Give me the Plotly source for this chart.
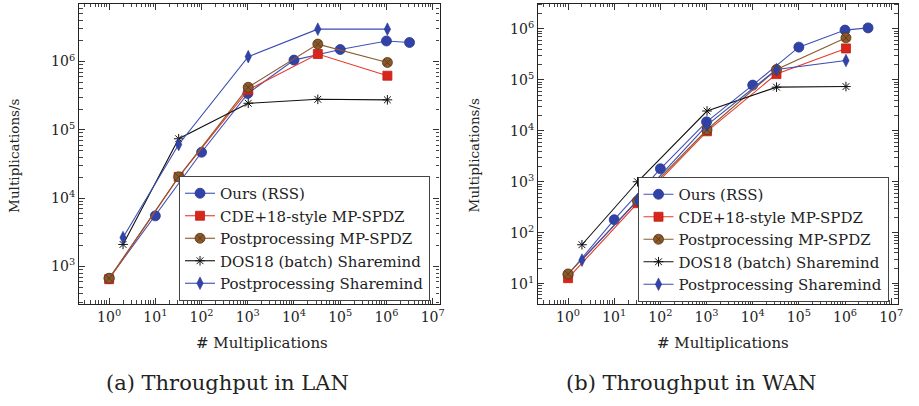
import plotly.graph_objects as go

# ---------------- data ----------------
ours_x = [1, 10, 100, 1000, 1e4, 1e5, 1e6, 3.16e6]
pow2_x = [1, 32, 1024, 32768, 1048576]
dos_x = [2, 32, 1024, 32768, 1048576]

ours_lan = [670, 5500, 47000, 340000, 1050000, 1500000, 2000000, 1900000]
cde_lan = [650, 20500, 385000, 1290000, 620000]
ppmp_lan = [670, 20500, 420000, 1800000, 970000]
dos_lan = [2100, 74000, 245000, 280000, 275000]
ppsh_lan = [2650, 61000, 1180000, 2980000, 2980000]

ours_wan = [15, 180, 1800, 15000, 79000, 440000, 950000, 1050000]
cde_wan = [12.8, 380, 9800, 130000, 415000]
ppmp_wan = [15.5, 420, 10500, 160000, 670000]
dos_wan = [58, 1000, 24500, 72000, 74000]
ppsh_wan = [29, 440, 13000, 160000, 240000]

names = ["Ours (RSS)", "CDE+18-style MP-SPDZ", "Postprocessing MP-SPDZ",
         "DOS18 (batch) Sharemind", "Postprocessing Sharemind"]
captions = ["(a) Throughput in LAN", "(b) Throughput in WAN"]

x_exps = [0, 1, 2, 3, 4, 5, 6, 7]
y_exps_lan = [3, 4, 5, 6]
y_exps_wan = [1, 2, 3, 4, 5, 6]

FONT = "DejaVu Serif"
TXT = "#222222"

styles = [
    dict(line=dict(color="#4152b3", width=1.1),
         marker=dict(symbol="circle", size=10, color="#3243a8", line=dict(color="#2a3890", width=0.8))),
    dict(line=dict(color="#e8392b", width=1.1),
         marker=dict(symbol="square", size=9, color="#d8261c", line=dict(color="#c01f15", width=0.8))),
    dict(line=dict(color="#8b5a2b", width=1.1),
         marker=dict(symbol="circle-x", size=10, color="#8b5a2b", line=dict(color="#5a3515", width=0.8))),
    dict(line=dict(color="#111111", width=1.1),
         marker=dict(symbol="asterisk-open", size=8, color="#111111", line=dict(color="#111111", width=1))),
    dict(line=dict(color="#3a4cb0", width=1.1),
         marker=dict(symbol="diamond-tall", size=9, color="#3243a8", line=dict(color="#2a3890", width=0.6))),
]

fig = go.Figure()

panels = [
    ("x", "y", "legend", [(ours_x, ours_lan), (pow2_x, cde_lan), (pow2_x, ppmp_lan),
                          (dos_x, dos_lan), (dos_x, ppsh_lan)]),
    ("x2", "y2", "legend2", [(ours_x, ours_wan), (pow2_x, cde_wan), (pow2_x, ppmp_wan),
                             (dos_x, dos_wan), (dos_x, ppsh_wan)]),
]

for xa, ya, lg, series in panels:
    for i, (xs, ys) in enumerate(series):
        fig.add_trace(go.Scatter(
            x=xs, y=ys, mode="lines+markers", name=names[i],
            xaxis=xa, yaxis=ya, legend=lg,
            line=styles[i]["line"], marker=styles[i]["marker"],
        ))

W, H = 919, 406
left_dom = [79.5 / W, 442 / W]
right_dom = [541 / W, 903 / W]
ydom = [(H - 304) / H, (H - 3.5) / H]


def minor_vals(lo, hi):
    return [m * 10 ** e for e in range(lo, hi) for m in range(2, 10)]


def logax(dom, anchor, rng, exps, mlo, mhi):
    return dict(
        domain=dom, anchor=anchor, type="log", range=rng,
        tickmode="array", tickvals=[10 ** e for e in exps],
        ticktext=["10<sup>%d</sup>" % e for e in exps],
        showgrid=False, zeroline=False,
        ticks="inside", ticklen=6, tickwidth=1, tickcolor="#333",
        showline=True, linecolor="#222", linewidth=1.2, mirror="allticks",
        minor=dict(ticks="inside", ticklen=3.5, tickwidth=0.8, tickcolor="#444",
                   showgrid=False, tickmode="array", tickvals=minor_vals(mlo, mhi)),
        tickfont=dict(family=FONT, size=14, color=TXT),
    )


legend_common = dict(
    bgcolor="white", bordercolor="#444", borderwidth=1,
    font=dict(family=FONT, size=15, color=TXT),
    xanchor="left", yanchor="top", itemwidth=30, tracegroupgap=0,
)

fig.update_layout(
    width=W, height=H,
    margin=dict(l=0, r=0, t=0, b=0),
    paper_bgcolor="white", plot_bgcolor="white",
    font=dict(family=FONT, size=15, color=TXT),
    xaxis=logax(left_dom, "y", [-0.65, 7.15], x_exps, -1, 8),
    yaxis=logax(ydom, "x", [2.45, 6.85], y_exps_lan, 2, 7),
    xaxis2=logax(right_dom, "y2", [-0.65, 7.15], x_exps, -1, 8),
    yaxis2=logax(ydom, "x2", [0.6, 6.5], y_exps_wan, 0, 7),
    legend=dict(x=180 / W, y=(H - 176) / H, **legend_common),
    legend2=dict(x=641 / W, y=(H - 177) / H, **legend_common),
    showlegend=True,
)

annos = []
for cx_px in [263, 727]:
    annos.append(dict(text="# Multiplications", x=cx_px / W, y=(H - 343) / H, xref="paper", yref="paper",
                      showarrow=False, xanchor="center", yanchor="middle",
                      font=dict(family=FONT, size=15, color=TXT)))
for cx_px, cap in [(229, captions[0]), (695, captions[1])]:
    annos.append(dict(text=cap, x=cx_px / W, y=(H - 383) / H, xref="paper", yref="paper",
                      showarrow=False, xanchor="center", yanchor="middle",
                      font=dict(family=FONT, size=21, color=TXT)))
for xp in [14, 477]:
    annos.append(dict(text="Multiplications/s", x=xp / W, y=(H - 155) / H, xref="paper", yref="paper",
                      showarrow=False, xanchor="center", yanchor="middle", textangle=-90,
                      font=dict(family=FONT, size=13.5, color=TXT)))
fig.update_layout(annotations=annos)

fig.write_html("out.html", config={"displayModeBar": False},
               post_script="document.body.style.margin='0';")
